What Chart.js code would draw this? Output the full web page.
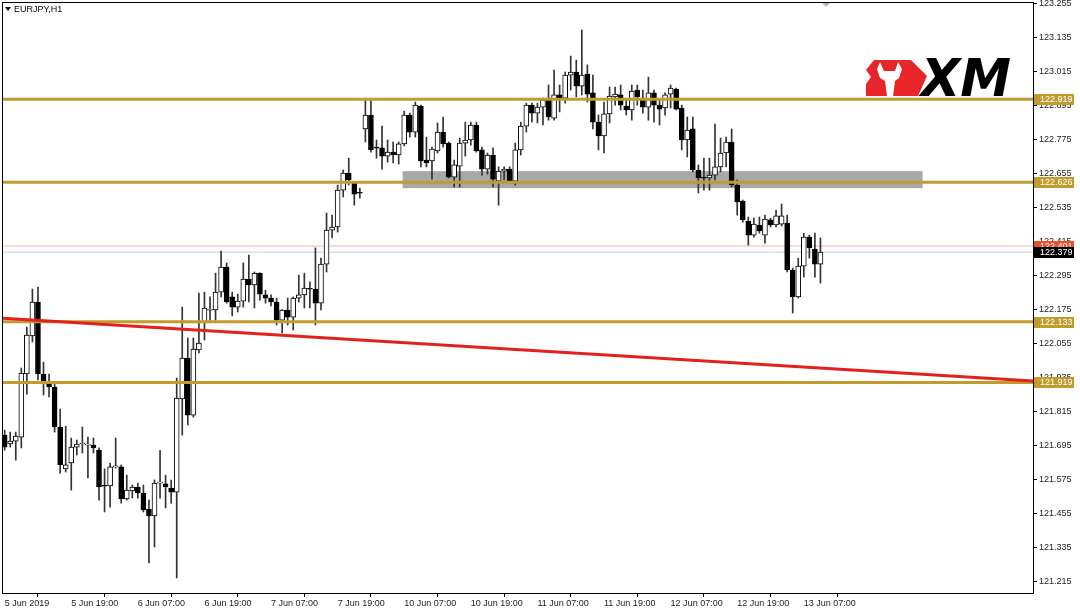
<!DOCTYPE html>
<html>
<head>
<meta charset="utf-8">
<title>EURJPY,H1</title>
<style>
	html, body { margin: 0; padding: 0; background: #fff; }
	#wrap { width: 1080px; height: 611px; position: relative; }
</style>
</head>
<body>
<div id="wrap">
	<canvas id="priceChart" width="1080" height="611"></canvas>
</div>

<script src="https://cdn.jsdelivr.net/npm/chart.js@4.4.0/dist/chart.umd.min.js"></script>

<script>
	// EURJPY H1, one bar per hour starting 5 Jun 2019 07:00
	var open = [
		121.733, 121.702, 121.712, 121.726, 121.949, 122.083, 122.203, 121.949, 121.913, 121.903,
		121.762, 121.614, 121.635, 121.691, 121.702, 121.698, 121.698, 121.680, 121.554, 121.554,
		121.621, 121.621, 121.508, 121.536, 121.550, 121.529, 121.472, 121.448, 121.564, 121.561,
		121.546, 121.532, 121.861, 122.005, 121.804, 122.034, 122.129, 122.174, 122.175, 122.238,
		122.326, 122.221, 122.185, 122.206, 122.284, 122.263, 122.305, 122.228, 122.217, 122.203,
		122.139, 122.175, 122.150, 122.217, 122.228, 122.249, 122.248, 122.199, 122.337, 122.457,
		122.468, 122.598, 122.658, 122.623, 122.588, 122.814, 122.863, 122.747, 122.747, 122.718,
		122.732, 122.722, 122.761, 122.863, 122.803, 122.895, 122.704, 122.701, 122.736, 122.803,
		122.764, 122.644, 122.683, 122.764, 122.775, 122.828, 122.740, 122.672, 122.722, 122.630,
		122.665, 122.672, 122.630, 122.740, 122.824, 122.898, 122.870, 122.891, 122.916, 122.852,
		122.934, 122.923, 123.004, 123.015, 122.965, 123.008, 122.941, 122.838, 122.789, 122.867,
		122.927, 122.934, 122.895, 122.881, 122.951, 122.923, 122.891, 122.941, 122.898, 122.888,
		122.937, 122.955, 122.888, 122.775, 122.814, 122.669, 122.641, 122.641, 122.651, 122.680,
		122.729, 122.768, 122.616, 122.559, 122.489, 122.439, 122.475, 122.439, 122.493, 122.475,
		122.478, 122.482, 122.316, 122.221, 122.330, 122.432, 122.390, 122.337
	]
	var high = [
		121.751, 121.744, 121.744, 121.970, 122.115, 122.249, 122.256, 121.991, 121.949, 121.921,
		121.825, 121.765, 121.723, 121.716, 121.762, 121.726, 121.723, 121.688, 121.614, 121.635,
		121.723, 121.628, 121.592, 121.557, 121.564, 121.557, 121.504, 121.575, 121.680, 121.592,
		121.575, 121.935, 122.185, 122.076, 122.076, 122.235, 122.238, 122.221, 122.305, 122.383,
		122.341, 122.238, 122.231, 122.341, 122.369, 122.309, 122.306, 122.245, 122.228, 122.217,
		122.176, 122.217, 122.221, 122.298, 122.305, 122.274, 122.394, 122.358, 122.517, 122.510,
		122.616, 122.669, 122.711, 122.627, 122.605, 122.916, 122.916, 122.775, 122.824, 122.775,
		122.768, 122.768, 122.877, 122.870, 122.909, 122.898, 122.785, 122.750, 122.835, 122.856,
		122.768, 122.704, 122.782, 122.838, 122.838, 122.838, 122.750, 122.729, 122.747, 122.680,
		122.680, 122.680, 122.764, 122.838, 122.905, 122.905, 122.905, 122.923, 122.969, 123.022,
		122.969, 123.015, 123.071, 123.057, 123.163, 123.040, 123.004, 122.863, 122.909, 122.962,
		122.962, 122.969, 122.916, 122.969, 122.969, 122.951, 122.997, 122.951, 122.916, 122.941,
		122.969, 122.958, 122.898, 122.856, 122.856, 122.687, 122.711, 122.711, 122.831, 122.782,
		122.785, 122.814, 122.634, 122.563, 122.503, 122.499, 122.503, 122.510, 122.499, 122.528,
		122.549, 122.510, 122.323, 122.358, 122.446, 122.439, 122.446, 122.429
	]
	var low = [
		121.680, 121.691, 121.645, 121.688, 121.878, 122.062, 121.928, 121.875, 121.868, 121.744,
		121.599, 121.603, 121.539, 121.663, 121.670, 121.582, 121.670, 121.504, 121.462, 121.479,
		121.617, 121.493, 121.504, 121.511, 121.511, 121.462, 121.282, 121.338, 121.511, 121.476,
		121.493, 121.229, 121.733, 121.769, 121.797, 122.023, 122.069, 122.139, 122.139, 122.221,
		122.199, 122.154, 122.168, 122.185, 122.203, 122.182, 122.210, 122.199, 122.189, 122.122,
		122.094, 122.122, 122.104, 122.203, 122.182, 122.182, 122.122, 122.175, 122.309, 122.429,
		122.450, 122.574, 122.616, 122.545, 122.570, 122.768, 122.732, 122.711, 122.672, 122.697,
		122.694, 122.690, 122.754, 122.785, 122.785, 122.680, 122.680, 122.637, 122.729, 122.750,
		122.641, 122.609, 122.609, 122.718, 122.757, 122.732, 122.651, 122.655, 122.609, 122.545,
		122.634, 122.623, 122.616, 122.722, 122.803, 122.838, 122.835, 122.828, 122.845, 122.845,
		122.874, 122.905, 122.951, 122.927, 122.934, 122.909, 122.814, 122.740, 122.729, 122.835,
		122.898, 122.881, 122.863, 122.845, 122.898, 122.870, 122.845, 122.838, 122.828, 122.863,
		122.888, 122.881, 122.740, 122.715, 122.662, 122.588, 122.598, 122.598, 122.634, 122.662,
		122.680, 122.609, 122.510, 122.485, 122.404, 122.432, 122.446, 122.411, 122.468, 122.468,
		122.471, 122.309, 122.164, 122.217, 122.291, 122.358, 122.291, 122.270
	]
	var close = [
		121.691, 121.712, 121.730, 121.952, 122.086, 122.203, 121.949, 121.924, 121.903, 121.762,
		121.628, 121.628, 121.691, 121.702, 121.703, 121.698, 121.688, 121.550, 121.553, 121.621,
		121.624, 121.508, 121.539, 121.550, 121.529, 121.469, 121.448, 121.564, 121.566, 121.550,
		121.532, 121.864, 122.005, 121.804, 122.037, 122.058, 122.182, 122.175, 122.238, 122.326,
		122.203, 122.185, 122.206, 122.284, 122.263, 122.305, 122.231, 122.217, 122.203, 122.139,
		122.175, 122.150, 122.217, 122.228, 122.252, 122.248, 122.199, 122.337, 122.457, 122.468,
		122.598, 122.658, 122.634, 122.584, 122.587, 122.863, 122.740, 122.746, 122.718, 122.732,
		122.722, 122.761, 122.863, 122.803, 122.898, 122.701, 122.694, 122.743, 122.803, 122.761,
		122.644, 122.687, 122.764, 122.775, 122.828, 122.736, 122.672, 122.722, 122.637, 122.665,
		122.672, 122.630, 122.740, 122.824, 122.898, 122.870, 122.891, 122.916, 122.856, 122.934,
		122.923, 123.004, 123.015, 122.965, 123.004, 122.937, 122.838, 122.789, 122.867, 122.930,
		122.937, 122.898, 122.881, 122.948, 122.927, 122.891, 122.941, 122.898, 122.884, 122.934,
		122.958, 122.884, 122.775, 122.810, 122.669, 122.641, 122.640, 122.651, 122.680, 122.729,
		122.768, 122.616, 122.556, 122.493, 122.439, 122.478, 122.454, 122.496, 122.475, 122.507,
		122.507, 122.316, 122.221, 122.330, 122.432, 122.394, 122.337, 122.379
	]

	// axis labels (one every 12 bars) and price ticks
	var xTickLabels = ["5 Jun 2019", "5 Jun 19:00", "6 Jun 07:00", "6 Jun 19:00", "7 Jun 07:00", "7 Jun 19:00",
		"10 Jun 07:00", "10 Jun 19:00", "11 Jun 07:00", "11 Jun 19:00", "12 Jun 07:00", "12 Jun 19:00", "13 Jun 07:00"]
	var yTicks = [123.255, 123.135, 123.015, 122.895, 122.775, 122.655, 122.535, 122.415, 122.295, 122.175,
		122.055, 121.935, 121.815, 121.695, 121.575, 121.455, 121.335, 121.215]

	// objects drawn on the chart
	var hLevels = [122.919, 122.626, 122.133, 121.919]
	var trendX = [-0.3, 185.3]
	var trendY = [122.146, 121.924]
	var zoneX = [71.7, 165.4]
	var zoneY = [122.605, 122.665]
	var askPrice = 122.401
	var bidPrice = 122.379

	var xMin = -0.3, xMax = 185.3
	var yMin = 121.176, yMax = 123.2585

	var FONT = "'Liberation Sans', Arial, sans-serif"
	var GOLD = "#c29b2e"

	function flatLine(v) {
		return [{x: xMin, y: v}, {x: xMax, y: v}]
	}

	var bodies = open.map(function(o, i) { return {x: i, y: [o, close[i]]} })
	var wicks = open.map(function(o, i) { return {x: i, y: [low[i], high[i]]} })
	var bodyColours = open.map(function(o, i) { return close[i] >= o ? "#ffffff" : "#000000" })

	var datasets = [
		{type: "line", data: trendX.map(function(x, i) { return {x: x, y: trendY[i]} }),
			borderColor: "#e2211c", borderWidth: 3, pointRadius: 0, order: 0},
	]
	hLevels.forEach(function(v) {
		datasets.push({type: "line", data: flatLine(v), borderColor: GOLD, borderWidth: 3, pointRadius: 0, order: 1})
	})
	datasets.push({type: "bar", data: bodies, backgroundColor: bodyColours, borderColor: "#000", borderWidth: 1,
		borderSkipped: false, barThickness: 5, minBarLength: 1, grouped: false, order: 2})
	datasets.push({type: "bar", data: wicks, backgroundColor: "#333", borderWidth: 0,
		barThickness: 1, grouped: false, order: 3})
	datasets.push({type: "line", data: flatLine(askPrice), borderColor: "#f2b9a4", borderWidth: 1, pointRadius: 0, order: 4})
	datasets.push({type: "line", data: flatLine(bidPrice), borderColor: "#c6ccd8", borderWidth: 1, pointRadius: 0, order: 4})

	function priceTag(ctx, yScale, price, bg) {
		var py = Math.round(yScale.getPixelForValue(price))
		ctx.fillStyle = bg
		ctx.fillRect(1034, py - 5, 40, 11)
		ctx.fillStyle = "#fff"
		ctx.font = "9px " + FONT
		ctx.textBaseline = "middle"
		ctx.textAlign = "left"
		ctx.fillText(price.toFixed(3), 1040, py + 0.5)
	}

	var overlay = {
		id: "overlay",
		beforeDatasetsDraw: function(chart) {
			var ctx = chart.ctx, x = chart.scales.x, y = chart.scales.y
			var x0 = x.getPixelForValue(zoneX[0]), x1 = x.getPixelForValue(zoneX[1])
			var y0 = y.getPixelForValue(zoneY[1]), y1 = y.getPixelForValue(zoneY[0])
			ctx.save()
			ctx.fillStyle = "#a8a8a8"
			ctx.fillRect(x0, y0, x1 - x0, y1 - y0)
			ctx.restore()
		},
		afterDraw: function(chart) {
			var ctx = chart.ctx, a = chart.chartArea, y = chart.scales.y
			ctx.save()
			// frame
			ctx.strokeStyle = "#000"
			ctx.lineWidth = 1
			ctx.strokeRect(a.left - 0.5, a.top - 0.5, a.right - a.left + 1, a.bottom - a.top + 1)

			// price tags on the axis
			hLevels.forEach(function(v) { priceTag(ctx, y, v, GOLD) })
			priceTag(ctx, y, askPrice, "#e5532b")
			priceTag(ctx, y, bidPrice, "#000")

			// symbol caption
			ctx.fillStyle = "#000"
			ctx.beginPath()
			ctx.moveTo(5, 7); ctx.lineTo(11, 7); ctx.lineTo(8, 11); ctx.closePath()
			ctx.fill()
			ctx.font = "9px " + FONT
			ctx.textBaseline = "middle"
			ctx.textAlign = "left"
			ctx.fillText("EURJPY,H1", 14, 9.5)

			// chart shift marker
			ctx.fillStyle = "#b8b8b8"
			ctx.beginPath()
			ctx.moveTo(822, 3); ctx.lineTo(830, 3); ctx.lineTo(826, 7); ctx.closePath()
			ctx.fill()

			// XM logo
			ctx.fillStyle = "#e8262a"
			ctx.beginPath()
			ctx.moveTo(874, 60); ctx.lineTo(911, 60); ctx.lineTo(927, 76); ctx.lineTo(918, 96)
			ctx.lineTo(866, 96); ctx.lineTo(866, 84); ctx.lineTo(871, 77); ctx.lineTo(866, 70); ctx.closePath()
			ctx.fill()
			ctx.fillStyle = "#fff"
			ctx.beginPath()
			ctx.moveTo(880, 62); ctx.lineTo(884, 71); ctx.lineTo(895, 71); ctx.lineTo(898, 62)
			ctx.lineTo(902, 69); ctx.lineTo(899, 78); ctx.lineTo(895, 81); ctx.lineTo(893, 96)
			ctx.lineTo(887, 96); ctx.lineTo(885, 81); ctx.lineTo(880, 78); ctx.lineTo(877, 69); ctx.closePath()
			ctx.fill()
			ctx.fillStyle = "#000"
			ctx.font = "italic bold 51px 'DejaVu Sans', sans-serif"
			ctx.textBaseline = "alphabetic"
			ctx.fillText("XM", 921, 96)
			ctx.restore()
		}
	}

	var ctx = document.getElementById("priceChart")
	var priceChart = new Chart(ctx, {
		type: "bar",
		data: {datasets: datasets},
		options: {
			responsive: false,
			animation: false,
			events: [],
			layout: {padding: {left: 3, top: 3, right: 0, bottom: 0}},
			plugins: {legend: {display: false}, tooltip: {enabled: false}},
			scales: {
				x: {
					type: "linear",
					min: xMin,
					max: xMax,
					offset: false,
					afterBuildTicks: function(scale) {
						scale.ticks = xTickLabels.map(function(_, i) { return {value: i * 12} })
					},
					afterFit: function(scale) {
						scale.height = 18
						scale.paddingLeft = 0
						scale.paddingRight = 0
					},
					grid: {drawOnChartArea: false, tickLength: 4, color: "#000"},
					border: {display: true, color: "#000"},
					ticks: {
						autoSkip: false,
						maxRotation: 0,
						align: "start",
						padding: 1,
						color: "#222",
						font: {family: FONT, size: 9},
						callback: function(v) { return xTickLabels[Math.round(v / 12)] }
					}
				},
				y: {
					position: "right",
					min: yMin,
					max: yMax,
					afterBuildTicks: function(scale) {
						scale.ticks = yTicks.map(function(v) { return {value: v} })
					},
					afterFit: function(scale) {
						scale.width = 47
						scale.paddingTop = 0
						scale.paddingBottom = 0
					},
					grid: {drawOnChartArea: false, tickLength: 4, color: "#000"},
					border: {display: true, color: "#000"},
					ticks: {
						padding: 2,
						color: "#222",
						font: {family: FONT, size: 9},
						callback: function(v) { return Number(v).toFixed(3) }
					}
				}
			}
		},
		plugins: [overlay]
	})
</script>
</body>
</html>
